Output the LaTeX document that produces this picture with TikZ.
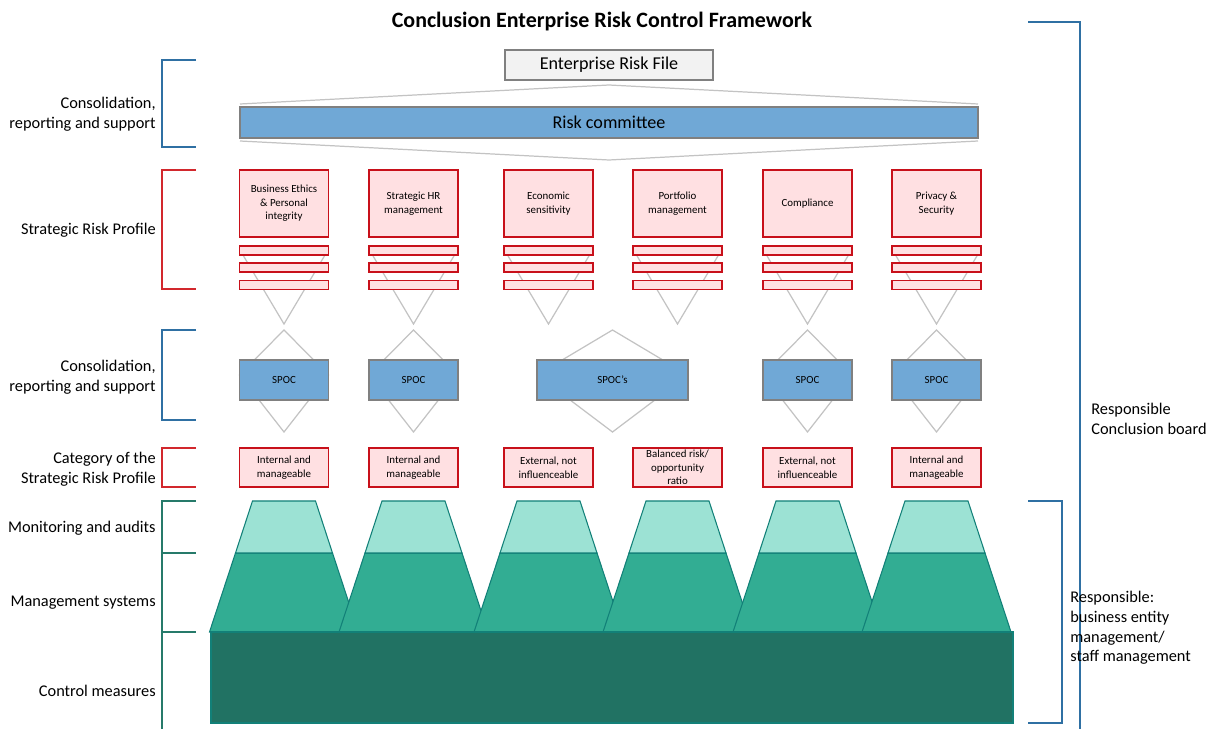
\documentclass[tikz,border=0pt]{standalone}
\usepackage{fontspec}
\setmainfont{Carlito}
\usepackage{tikz}

\definecolor{boxgrey}{RGB}{128,128,128}
\definecolor{filegrey}{RGB}{242,242,242}
\definecolor{linkgrey}{RGB}{195,195,195}
\definecolor{spocblue}{RGB}{112,168,214}
\definecolor{riskred}{RGB}{200,16,26}
\definecolor{riskpink}{RGB}{255,224,226}
\definecolor{brblue}{RGB}{47,112,163}
\definecolor{brred}{RGB}{210,40,45}
\definecolor{brgreen}{RGB}{38,122,106}
\definecolor{tealline}{RGB}{18,128,120}
\definecolor{auditfill}{RGB}{156,226,212}
\definecolor{mgmtfill}{RGB}{50,173,147}
\definecolor{ctrlfill}{RGB}{33,114,99}

\begin{document}
\begin{tikzpicture}[x=0.02cm,y=-0.02cm,
    every node/.style={inner sep=0pt,align=center},
    greybox/.style={draw=boxgrey,line width=0.9pt,font=\fontsize{10.3}{12}\selectfont},
    riskbox/.style={draw=riskred,line width=0.8pt,fill=riskpink,font=\fontsize{6.2}{7.7}\selectfont},
    link/.style={draw=linkgrey,line width=0.7pt},
    bracket/.style={line width=0.9pt},
    sidetext/.style={font=\fontsize{9.3}{11.2}\selectfont}]
    \def\px{0.02cm}
    \useasboundingbox (0,0) rectangle (1215,729);

    \node[font=\bfseries\fontsize{12.5}{14}\selectfont] (title) at (602,22) {Conclusion Enterprise Risk Control Framework};

    \coordinate (rtop) at (609,85);
    \coordinate (rbot) at (609,160);
    \draw[link] (240,104) -- (rtop) -- (978,104);
    \draw[link] (240,141) -- (rbot) -- (978,141);
    \node[greybox,fill=filegrey,minimum width=208*\px,minimum height=30*\px] (erf) at (609,65) {Enterprise Risk File};
    \node[greybox,fill=spocblue,minimum width=738*\px,minimum height=31*\px] (rc) at (609,122.5) {Risk committee};

    \foreach \cx/\risk/\cat [count=\i] in {
        284/{Business Ethics\\\& Personal\\integrity}/{Internal and\\manageable},
        413.5/{Strategic HR\\management}/{Internal and\\manageable},
        548.5/{Economic\\sensitivity}/{External, not\\influenceable},
        677.5/{Portfolio\\management}/{Balanced risk/\\opportunity\\ratio},
        807.5/{Compliance}/{External, not\\influenceable},
        936.5/{Privacy \&\\Security}/{Internal and\\manageable}}{
        \draw[link] (\cx-44,250) -- (\cx,324) -- (\cx+44,250);
        \node[riskbox,minimum width=89*\px,minimum height=67*\px] (srp\i) at (\cx,203.5) {\risk};
        \foreach \by [count=\j] in {250.5,267.5,285}
            \node[riskbox,minimum width=89*\px,minimum height=9*\px] (bar\i-\j) at (\cx,\by) {};
        \node[riskbox,minimum width=89*\px,minimum height=39*\px] (cat\i) at (\cx,467.5) {\cat};
    }

    \foreach \cx/\hw/\txt [count=\i] in {284/44.5/SPOC, 413.5/44.5/SPOC, 612.5/75.5/SPOC's, 807.5/44.5/SPOC, 936.5/44.5/SPOC}{
        \draw[link,fill=white] (\cx,330) -- (\cx+\hw,375) -- (\cx,432) -- (\cx-\hw,375) -- cycle;
        \node[greybox,fill=spocblue,font=\fontsize{6.2}{7.7}\selectfont,minimum width=2*\hw*\px,minimum height=40*\px] (spoc\i) at (\cx,380) {\txt};
    }

    \foreach \cx in {284,413.5,548.5,677.5,807.5,936.5}{
        \draw[tealline,line width=0.6pt,fill=mgmtfill] (\cx-74.5,632) -- (\cx-48.5,553) -- (\cx+48.5,553) -- (\cx+74.5,632) -- cycle;
        \draw[tealline,line width=0.6pt,fill=auditfill] (\cx-48.5,553) -- (\cx-31.5,501) -- (\cx+31.5,501) -- (\cx+48.5,553) -- cycle;
    }
    \draw[tealline,line width=0.6pt,fill=ctrlfill] (211,632) rectangle (1013,723);

    \draw[bracket,brblue] (196,60) -- (162,60) -- (162,147) -- (196,147);
    \draw[bracket,brred] (196,170) -- (162,170) -- (162,289) -- (196,289);
    \draw[bracket,brblue] (196,330) -- (162,330) -- (162,420) -- (196,420);
    \draw[bracket,brred] (196,448) -- (162,448) -- (162,487) -- (196,487);
    \draw[bracket,brgreen] (162,729) -- (162,501) -- (196,501) (162,553) -- (196,553) (162,632) -- (196,632);
    \draw[bracket,brblue] (1028,22) -- (1080,22) -- (1080,729);
    \draw[bracket,brblue] (1028,501) -- (1062,501) -- (1062,723) -- (1028,723);

    \node[sidetext,anchor=east,align=right] (cons1) at (156,114) {Consolidation,\\reporting and support};
    \node[sidetext,anchor=east,align=right] (srplab) at (156,230) {Strategic Risk Profile};
    \node[sidetext,anchor=east,align=right] (cons2) at (156,377) {Consolidation,\\reporting and support};
    \node[sidetext,anchor=east,align=right] (catlab) at (156,469) {Category of the\\Strategic Risk Profile};
    \node[sidetext,anchor=east,align=right] (audits) at (156,528) {Monitoring and audits};
    \node[sidetext,anchor=east,align=right] (mgmt) at (156,603) {Management systems};
    \node[sidetext,anchor=east,align=right] (ctrl) at (156,691) {Control measures};
    \node[sidetext,anchor=west,align=left] (board) at (1091,419) {Responsible\\Conclusion board};
    \node[sidetext,anchor=west,align=left] (entity) at (1070,628) {Responsible:\\business entity\\management/\\staff management};
\end{tikzpicture}
\end{document}
